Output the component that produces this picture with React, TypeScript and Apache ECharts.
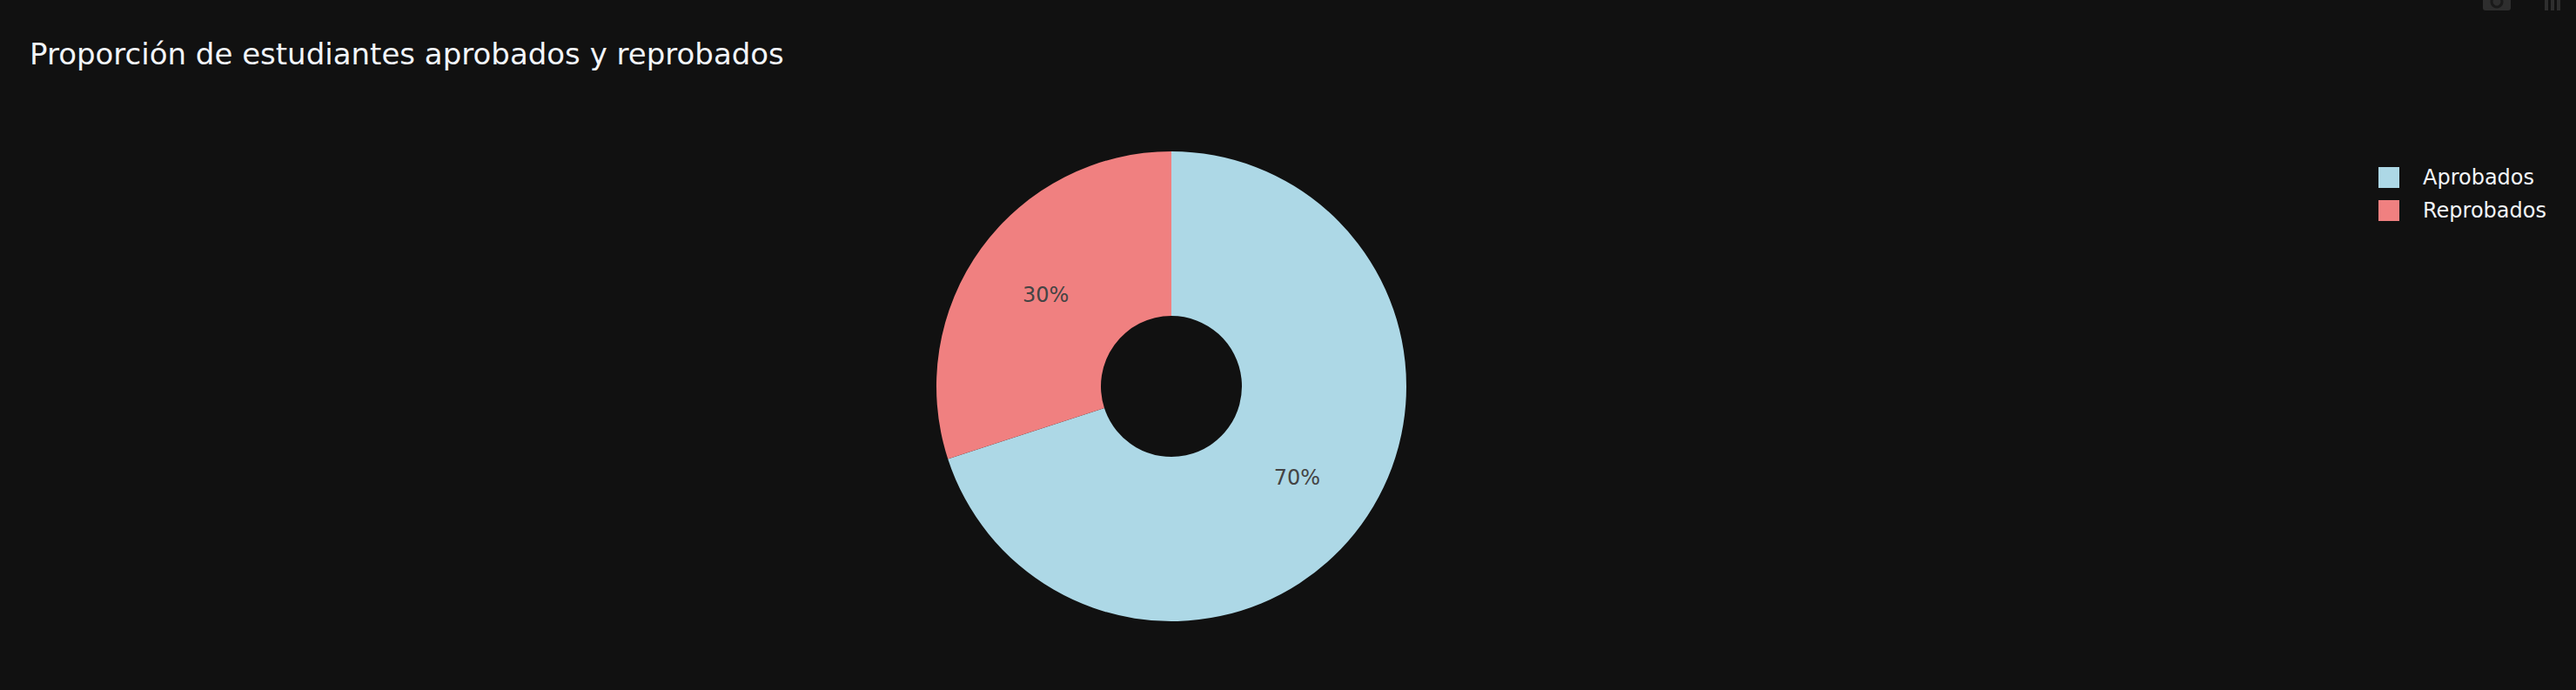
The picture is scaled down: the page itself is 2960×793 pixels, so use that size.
import React, { useEffect, useRef } from "react";
import * as echarts from "echarts";

const categories = ["Aprobados", "Reprobados"];
const values = [70, 30];
const colors = ["#ADD8E6", "#F08080"];
const titleText = "Proporción de estudiantes aprobados y reprobados";

export default function App() {
  const ref = useRef<HTMLDivElement>(null);
  useEffect(() => {
    if (!ref.current) return;
    const chart = echarts.init(ref.current, null, { renderer: "svg" });
    const font = "DejaVu Sans";
    chart.setOption({
      animation: false,
      backgroundColor: "#111111",
      title: {
        text: titleText,
        left: 29,
        top: 40,
        textStyle: { color: "#f2f5fa", fontFamily: font, fontSize: 34, fontWeight: "normal" },
      },
      legend: {
        orient: "vertical",
        left: 2728,
        top: 187,
        icon: "rect",
        itemWidth: 24,
        itemHeight: 24,
        itemGap: 14,
        data: categories,
        textStyle: { color: "#f2f5fa", fontFamily: font, fontSize: 24, padding: [0, 0, 0, 22] },
      },
      graphic: [
        { type: "rect", shape: { x: 2853, y: -6, width: 32, height: 18, r: 3 }, style: { fill: "#2e2e2e" } },
        { type: "circle", shape: { cx: 2869, cy: 2, r: 6 }, style: { fill: "none", stroke: "#1a1a1a", lineWidth: 3 } },
        { type: "rect", shape: { x: 2924, y: 0, width: 4, height: 12 }, style: { fill: "#2e2e2e" } },
        { type: "rect", shape: { x: 2931, y: 0, width: 4, height: 12 }, style: { fill: "#2e2e2e" } },
        { type: "rect", shape: { x: 2938, y: 0, width: 4, height: 12 }, style: { fill: "#2e2e2e" } },
      ],
      series: [
        {
          type: "pie",
          center: [1346, 444],
          radius: [81, 270],
          startAngle: 90,
          clockwise: true,
          avoidLabelOverlap: false,
          emphasis: { disabled: true },
          label: {
            show: true,
            position: "inside",
            formatter: "{d}%",
            color: "#444444",
            fontFamily: font,
            fontSize: 24,
          },
          labelLine: { show: false },
          data: categories.map((c, i) => ({
            name: c,
            value: values[i],
            itemStyle: { color: colors[i] },
          })),
        },
      ],
    });
    return () => chart.dispose();
  }, []);
  return (
    <div
      ref={ref}
      style={{ position: "fixed", left: 0, top: 0, width: 2960, height: 793 }}
    />
  );
}
